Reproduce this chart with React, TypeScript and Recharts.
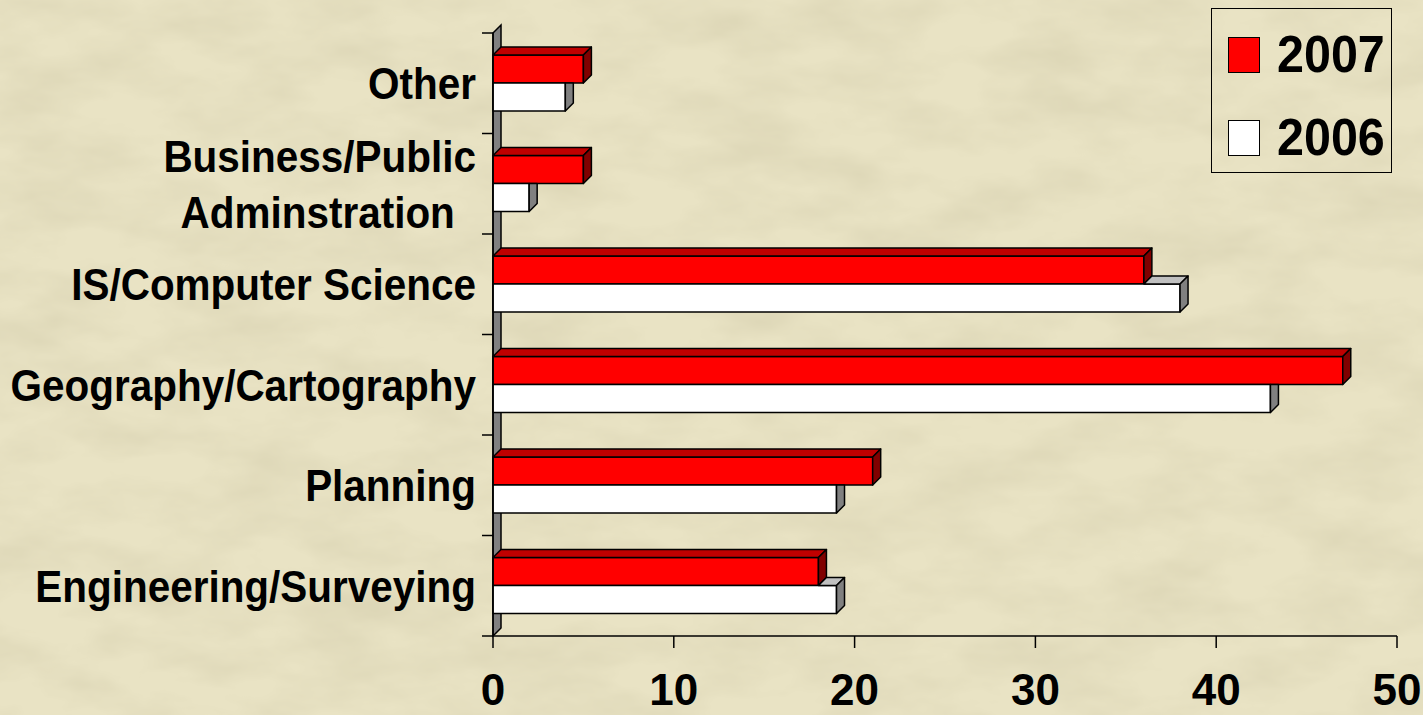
import React from "react";
import { BarChart, Bar, XAxis, YAxis, ReferenceArea } from "recharts";

// categories listed top to bottom
const categories = [
  "Other",
  "Business/Public\nAdminstration",
  "IS/Computer Science",
  "Geography/Cartography",
  "Planning",
  "Engineering/Surveying",
];
const values2007 = [5, 5, 36, 47, 21, 18];
const values2006 = [4, 2, 38, 43, 19, 19];
const xTicks = [0, 10, 20, 30, 40, 50];
const seriesNames = ["2007", "2006"];

const data = categories.map((name, i) => ({
  name,
  v2007: values2007[i],
  v2006: values2006[i],
}));

const DEPTH = 8;
const FONT = "'Liberation Sans', Arial, Helvetica, sans-serif";

const noise = encodeURIComponent(
  "<svg xmlns='http://www.w3.org/2000/svg' width='1423' height='715'><filter id='n'><feTurbulence type='fractalNoise' baseFrequency='0.01 0.022' numOctaves='4' seed='7' stitchTiles='stitch'/><feColorMatrix values='0 0 0 0 0.45 0 0 0 0 0.41 0 0 0 0 0.25 0.4 0 0 0 -0.14'/></filter><rect width='100%' height='100%' filter='url(#n)'/></svg>"
);

function RedBar(props: any) {
  const { x, y, width, height } = props;
  const d = DEPTH;
  return (
    <g stroke="#000" strokeWidth={1.5} strokeLinejoin="round">
      <rect x={x} y={y} width={width} height={height} fill="#ff0000" />
      <polygon
        points={`${x},${y} ${x + d},${y - d} ${x + width + d},${y - d} ${x + width},${y}`}
        fill="#c00000"
      />
      <polygon
        points={`${x + width},${y} ${x + width + d},${y - d} ${x + width + d},${y + height - d} ${x + width},${y + height}`}
        fill="#800000"
      />
    </g>
  );
}

function WhiteBar(props: any) {
  const { x, y, width, height, payload } = props;
  const d = DEPTH;
  const perUnit = payload.v2006 ? width / payload.v2006 : 0;
  const rw = payload.v2007 * perUnit;
  const over = width > rw;
  return (
    <g stroke="#000" strokeWidth={1.5} strokeLinejoin="round">
      <rect x={x} y={y} width={width} height={height} fill="#ffffff" />
      {over ? (
        <>
          <polygon
            points={`${x + rw},${y} ${x + rw + d},${y - d} ${x + width + d},${y - d} ${x + width},${y}`}
            fill="#c0c0c0"
          />
          <polygon
            points={`${x + width},${y} ${x + width + d},${y - d} ${x + width + d},${y + height - d} ${x + width},${y + height}`}
            fill="#808080"
          />
        </>
      ) : (
        <polygon
          points={`${x + width},${y} ${x + width + d},${y} ${x + width + d},${y + height - d} ${x + width},${y + height}`}
          fill="#808080"
        />
      )}
    </g>
  );
}

function Wall(props: any) {
  const { x, y, width, height } = props;
  const d = DEPTH;
  const n = categories.length;
  const step = height / n;
  return (
    <g>
      <polygon
        points={`${x},${y} ${x + d},${y - d} ${x + d},${y + height - d} ${x},${y + height}`}
        fill="#808080"
        stroke="#000"
        strokeWidth={1.5}
      />
      {Array.from({ length: n + 1 }, (_, i) => (
        <line
          key={i}
          x1={x - 11}
          x2={x}
          y1={y + i * step}
          y2={y + i * step}
          stroke="#000"
          strokeWidth={1.5}
        />
      ))}
    </g>
  );
}

function YTick(props: any) {
  const { x, y, payload } = props;
  const lines = String(payload.value).split("\n");
  const lh = 56;
  const start = -((lines.length - 1) * lh) / 2;
  return (
    <g transform={`translate(${x},${y}) scale(0.92,1)`}>
      {lines.map((ln, i) => (
        <text
          key={i}
          x={i > 0 ? -23 : 0}
          y={start + i * lh}
          dy={16}
          textAnchor="end"
          fontFamily={FONT}
          fontWeight="bold"
          fontSize={44}
          fill="#000"
        >
          {ln}
        </text>
      ))}
    </g>
  );
}

function XTick(props: any) {
  const { x, y, payload } = props;
  return (
    <text
      x={x}
      y={y}
      dy={55}
      textAnchor="middle"
      fontFamily={FONT}
      fontWeight="bold"
      fontSize={44}
      fill="#000"
    >
      {payload.value}
    </text>
  );
}

const legendColors = ["#ff0000", "#ffffff"];

export default function App() {
  return (
    <div
      style={{
        position: "fixed",
        left: 0,
        top: 0,
        width: 1423,
        height: 715,
        backgroundColor: "#e9e3c4",
        backgroundImage: `url("data:image/svg+xml;utf8,${noise}")`,
        overflow: "hidden",
      }}
    >
      <BarChart
        width={1423}
        height={715}
        data={data}
        layout="vertical"
        margin={{ top: 33, right: 26, left: 0, bottom: 0 }}
        barSize={28}
        barGap={0}
      >
        <XAxis
          type="number"
          domain={[0, 50]}
          ticks={xTicks}
          interval={0}
          height={79}
          tickSize={12}
          axisLine={{ stroke: "#000", strokeWidth: 1.5 }}
          tickLine={{ stroke: "#000", strokeWidth: 1.5 }}
          tick={<XTick />}
        />
        <YAxis
          type="category"
          dataKey="name"
          width={493}
          interval={0}
          tickSize={0}
          tickMargin={17}
          tickLine={false}
          axisLine={{ stroke: "#000", strokeWidth: 1.5 }}
          tick={<YTick />}
        />
        <ReferenceArea
          x1={0}
          x2={50}
          ifOverflow="visible"
          shape={(p: any) => <Wall {...p} />}
        />
        <Bar
          dataKey="v2007"
          name={seriesNames[0]}
          shape={(p: any) => <RedBar {...p} />}
          isAnimationActive={false}
        />
        <Bar
          dataKey="v2006"
          name={seriesNames[1]}
          shape={(p: any) => <WhiteBar {...p} />}
          isAnimationActive={false}
        />
      </BarChart>
      <div
        style={{
          position: "absolute",
          left: 1211,
          top: 8,
          width: 179,
          height: 163,
          border: "1.5px solid #000",
          fontFamily: FONT,
          fontWeight: "bold",
        }}
      >
        {seriesNames.map((s, i) => (
          <div
            key={s}
            style={{
              position: "absolute",
              left: 16,
              top: 27 + i * 83,
              display: "flex",
              alignItems: "center",
              height: 38,
            }}
          >
            <div
              style={{
                width: 30,
                height: 34,
                background: legendColors[i],
                border: "1.5px solid #000",
                marginRight: 17,
              }}
            />
            <span
              style={{
                fontSize: 51,
                lineHeight: "38px",
                display: "inline-block",
                transform: "scaleX(0.95)",
                transformOrigin: "left center",
              }}
            >
              {s}
            </span>
          </div>
        ))}
      </div>
    </div>
  );
}
